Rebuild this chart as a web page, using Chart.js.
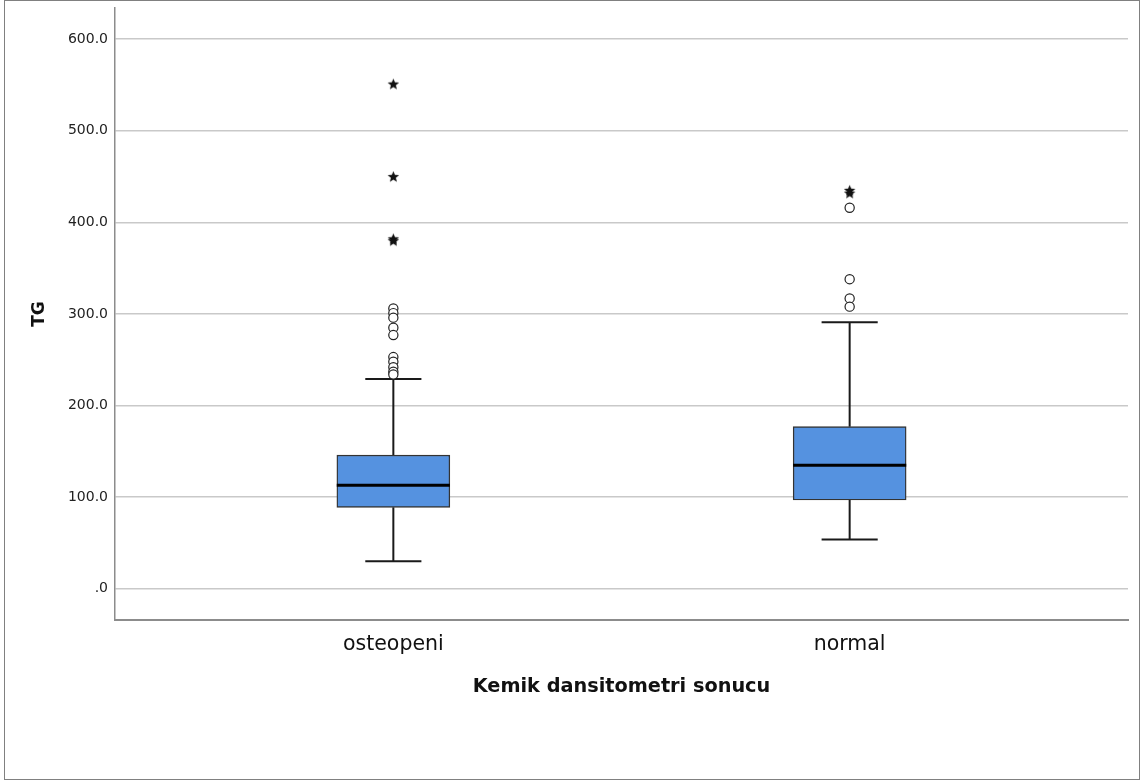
<!DOCTYPE html>
<html>
<head>
<meta charset="utf-8">
<script src="https://cdn.jsdelivr.net/npm/chart.js@4"></script>
<style>
body{margin:0;background:#fff;}
#frm{position:absolute;left:4px;top:0;width:1136px;height:780px;box-sizing:border-box;border:1px solid #808080;}
#wrap{position:absolute;left:0;top:0;width:1141px;height:782px;}
</style>
</head>
<body>
<div id="frm"></div>
<div id="wrap"><canvas id="myChart" width="1141" height="782"></canvas></div>
<script>
// groups and five-number summaries
var groups=["osteopeni","normal"];
var wLow=[30,54];
var q1=[89,97];
var med=[113,135];
var q3=[146,177];
var wHigh=[229,291];
// circles = outliers, stars = extremes
var outOst=[306,301,296,285,277,253,248,242,237,234];
var extOst=[551,450,382,380];
var outNor=[416,338,317,308];
var extNor=[435,432];
var yTicks=[0,100,200,300,400,500,600];

var capW=0.0615, medW=0.124;

function starImg(){
    var c=document.createElement("canvas");
    c.width=13;c.height=13;
    var g=c.getContext("2d");
    g.fillStyle="#111";
    g.beginPath();
    for(var i=0;i<10;i++){
        var r=(i%2==0)?6:2.6;
        var a=-Math.PI/2+i*Math.PI/5;
        var px=6.5+r*Math.cos(a), py=6.9+r*Math.sin(a);
        if(i==0) g.moveTo(px,py); else g.lineTo(px,py);
    }
    g.closePath();
    g.fill();
    return c;
}
var star=starImg();

var boxes=[],whisk=[],meds=[];
for(var i=0;i<groups.length;i++){
    boxes.push({x:i,y:[q1[i],q3[i]]});
    whisk.push({x:i,y:q3[i]},{x:i,y:wHigh[i]},{x:i,y:null});
    whisk.push({x:i,y:q1[i]},{x:i,y:wLow[i]},{x:i,y:null});
    whisk.push({x:i-capW,y:wHigh[i]},{x:i+capW,y:wHigh[i]},{x:i,y:null});
    whisk.push({x:i-capW,y:wLow[i]},{x:i+capW,y:wLow[i]},{x:i,y:null});
    meds.push({x:i-medW,y:med[i]},{x:i+medW,y:med[i]},{x:i,y:null});
}
var circ=outOst.map(v=>({x:0,y:v})).concat(outNor.map(v=>({x:1,y:v})));
var ext=extOst.map(v=>({x:0,y:v})).concat(extNor.map(v=>({x:1,y:v})));

var ctx=document.getElementById("myChart").getContext("2d");
var chart=new Chart(ctx,{
    type:"bar",
    data:{
        datasets:[
        {
            type:"scatter",data:ext,order:0,
            pointStyle:star,pointRadius:5
        },
        {
            type:"scatter",data:circ,order:1,
            pointStyle:"circle",pointRadius:4.6,
            backgroundColor:"#fff",borderColor:"#222",borderWidth:1.2
        },
        {
            type:"scatter",data:meds,order:2,showLine:true,spanGaps:false,
            borderColor:"#000",borderWidth:3,pointRadius:0
        },
        {
            type:"bar",data:boxes,order:3,
            backgroundColor:"#5592e0",borderColor:"#333",borderWidth:1.4,
            borderSkipped:false,barThickness:113
        },
        {
            type:"scatter",data:whisk,order:4,showLine:true,spanGaps:false,
            borderColor:"#1a1a1a",borderWidth:2,pointRadius:0
        }
        ]
    },
    options:{
        responsive:false,
        animation:false,
        events:[],
        layout:{padding:{left:0,top:8,right:13,bottom:0}},
        plugins:{legend:{display:false},tooltip:{enabled:false}},
        scales:{
            x:{
                type:"linear",min:-0.61,max:1.61,offset:false,
                afterFit:function(s){s.height=162;s.paddingLeft=0;s.paddingRight=0;},
                afterBuildTicks:function(s){s.ticks=groups.map((g,i)=>({value:i}));},
                grid:{display:false,drawTicks:false,offset:false},
                border:{color:"#8c8c8c",width:2},
                ticks:{
                    padding:12,color:"#111",
                    font:{family:"DejaVu Sans",size:20.5},
                    callback:function(v){return groups[v];}
                },
                title:{
                    display:true,text:"Kemik dansitometri sonucu",color:"#111",
                    font:{family:"DejaVu Sans",size:19.3,weight:"bold"},
                    padding:{top:0,bottom:83}
                }
            },
            y:{
                min:-34,max:634,
                afterFit:function(s){s.width=115;s.paddingTop=0;s.paddingBottom=0;},
                afterBuildTicks:function(s){s.ticks=yTicks.map(v=>({value:v}));},
                grid:{color:"#c9c9c9",lineWidth:1.5,drawTicks:false},
                border:{color:"#8c8c8c",width:1.5},
                ticks:{
                    padding:7,color:"#222",
                    font:{family:"DejaVu Sans",size:14},
                    callback:function(v){return v===0?".0":v.toFixed(1);}
                },
                title:{
                    display:true,text:"TG",color:"#111",
                    font:{family:"DejaVu Sans",size:17,weight:"bold"},
                    padding:{top:29,bottom:0}
                }
            }
        }
    }
});
</script>
</body>
</html>
